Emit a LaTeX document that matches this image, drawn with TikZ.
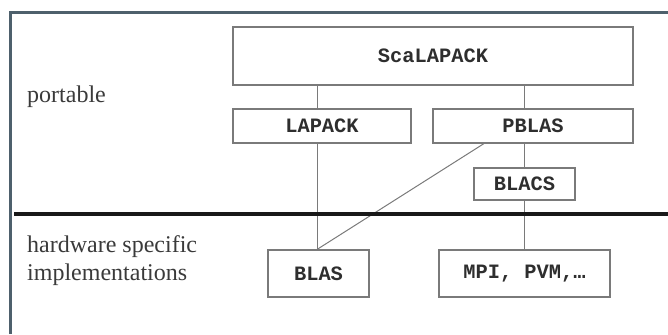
\documentclass[tikz,border=0pt]{standalone}
\usepackage{fontspec}
\setmainfont{Liberation Serif}
\newfontfamily\codefont{Liberation Mono}
\definecolor{framegray}{HTML}{4E606C}
\definecolor{boxgray}{HTML}{7A7A7A}
\definecolor{inkgray}{HTML}{2E2E2E}
\definecolor{labelgray}{HTML}{3A3A3A}
\tikzset{
  layer/.style={draw=boxgray, line width=1.1bp, fill=white, rectangle, inner sep=0pt,
    text=inkgray, font=\codefont\bfseries\fontsize{20.4bp}{24bp}\selectfont},
  link/.style={draw=boxgray, line width=1bp},
  sidelabel/.style={anchor=west, inner sep=0pt, text=labelgray, align=left,
    font=\fontsize{24bp}{28bp}\selectfont},
}
\begin{document}
\begin{tikzpicture}[x=1bp, y=-1bp]
\useasboundingbox (0,0) rectangle (668,334);
% outer frame (only left and top edges fall inside the page)
\draw[framegray, line width=2.2bp] (10.5,334) -- (10.5,12.5) -- (668,12.5);

% software layers
\node[layer, minimum width=400bp, minimum height=58bp] (scal) at (433,56) {ScaLAPACK};
\node[layer, minimum width=178bp, minimum height=34bp] (lap) at (322,126) {LAPACK};
\node[layer, minimum width=200bp, minimum height=34bp] (pbl) at (533,126) {PBLAS};
\node[layer, minimum width=101bp, minimum height=32bp] (blacs) at (524.5,184) {BLACS};
\node[layer, minimum width=101bp, minimum height=47bp] (blas) at (318.5,273.5) {BLAS};
\node[layer, minimum width=171bp, minimum height=47bp] (mpi) at (524.5,273.5) {MPI, PVM,…};

% dependencies
\draw[link] ([xshift=-5bp]lap.north) -- ([xshift=-5bp]lap.north |- scal.south);
\draw[link] (blacs.north |- scal.south) -- (blacs.north |- pbl.north);
\draw[link] (blacs.north |- pbl.south) -- (blacs.north);
\draw[link] ([xshift=-5bp]lap.south) -- ([xshift=-5bp]lap.south |- blas.north);
\draw[link] ([xshift=-49bp]pbl.south) -- ([xshift=-5bp]lap.south |- blas.north);
\draw[link] (blacs.south) -- (mpi.north);

% portable / hardware specific divide
\coordinate (divL) at (14,214);
\coordinate (divR) at (668,214);
\draw[black!90, line width=4bp] (divL) -- (divR);

% side labels
\node[sidelabel] (port) at (27,97) {portable};
\node[sidelabel] (hw) at (27,261) {hardware specific\\implementations};
\end{tikzpicture}
\end{document}
